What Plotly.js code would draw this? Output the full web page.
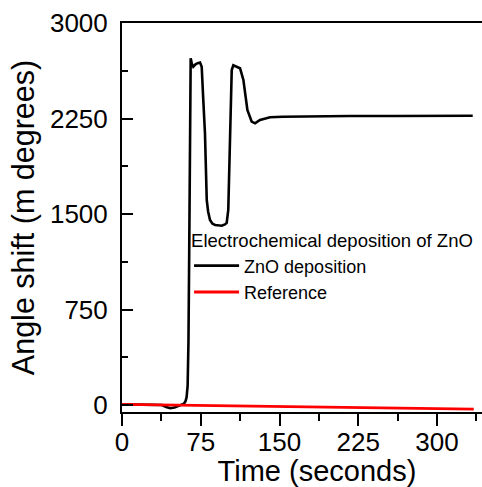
<!DOCTYPE html>
<html>
<head>
<meta charset="utf-8">
<script src="https://cdn.plot.ly/plotly-3.0.1.min.js"></script>
<style>
html, body { margin:0; padding:0; overflow:hidden; background:#fff; }
#chart { width:512px; height:487px; }
</style>
</head>
<body>
<div id="chart"></div>
<script>
// Time (seconds) and angle shift (m degrees)
const znoTime = [0, 10, 20, 30, 38, 42, 46, 50, 54, 57, 59, 60.5, 61.5, 62.5, 63.3, 64, 64.6, 65.1, 65.4, 66.5, 67.9, 70, 72, 74.3, 75.9, 77.4, 79, 80.7, 82, 83.8, 86, 88.6, 92, 95, 98, 99.7, 101.2, 102.9, 104.5, 106, 107.6, 110, 112.4, 115.6, 119.4, 123.5, 126.7, 131.4, 141, 153, 180, 217, 260, 300, 334];
const znoShift = [5, 5, 3, 2, 0, -15, -25, -20, -5, 0, 10, 30, 60, 150, 500, 1200, 2000, 2500, 2723, 2680, 2657, 2675, 2685, 2689, 2657, 2396, 2136, 1610, 1520, 1453, 1425, 1414, 1408, 1408, 1418, 1430, 1532, 2058, 2631, 2668, 2663, 2655, 2645, 2553, 2317, 2225, 2212, 2239, 2260, 2264, 2267, 2270, 2270, 2270, 2272];
const refTime = [0, 50, 100, 150, 200, 250, 300, 335];
const refShift = [5, 0, -6, -12, -18, -24, -30, -33];
const xTicks = [0, 75, 150, 225, 300];
const yTicks = [0, 750, 1500, 2250, 3000];

const FONT = 'Liberation Sans, Arial, sans-serif';

const traces = [
  {x: znoTime, y: znoShift, type: 'scatter', mode: 'lines', name: 'ZnO deposition',
   line: {color: '#000000', width: 2.6}},
  {x: refTime, y: refShift, type: 'scatter', mode: 'lines', name: 'Reference',
   line: {color: '#ff0000', width: 2.8}}
];

const layout = {
  width: 512, height: 487,
  margin: {l: 122, r: 0, t: 23, b: 75},
  paper_bgcolor: '#ffffff', plot_bgcolor: '#ffffff',
  font: {family: FONT, color: '#000000'},
  showlegend: true,
  legend: {
    x: 0.172, y: 0.485, xanchor: 'left', yanchor: 'top',
    bgcolor: 'rgba(0,0,0,0)', borderwidth: 0,
    itemwidth: 45,
    font: {family: FONT, size: 18, color: '#000'},
    title: {text: 'Electrochemical deposition of ZnO', font: {family: FONT, size: 18.5, color: '#000'}},
    tracegroupgap: 0
  },
  xaxis: {
    range: [0, 371.4], tickmode: 'array', tickvals: xTicks, ticktext: xTicks.map(String),
    ticks: 'outside', ticklen: 12, tickwidth: 2, tickcolor: '#000',
    ticklabelstandoff: -6,
    minor: {dtick: 37.5, tick0: 0, ticks: 'outside', ticklen: 7, tickwidth: 2, tickcolor: '#000'},
    showline: true, linecolor: '#000', linewidth: 2, mirror: true,
    showgrid: false, zeroline: false,
    tickfont: {family: FONT, size: 26, color: '#000'},
    title: {text: 'Time (seconds)', font: {family: FONT, size: 29, color: '#000'}, standoff: 2}
  },
  yaxis: {
    range: [-55, 3000], tickmode: 'array', tickvals: yTicks, ticktext: yTicks.map(String),
    ticks: 'inside', ticklen: 11, tickwidth: 2, tickcolor: '#000',
    ticklabelstandoff: 7,
    minor: {dtick: 375, tick0: 0, ticks: 'inside', ticklen: 6, tickwidth: 2, tickcolor: '#000'},
    showline: true, linecolor: '#000', linewidth: 2, mirror: false,
    showgrid: false, zeroline: false,
    tickfont: {family: FONT, size: 26, color: '#000'},
    title: {text: 'Angle shift (m degrees)', font: {family: FONT, size: 30.5, color: '#000'}, standoff: 6}
  }
};

Plotly.newPlot('chart', traces, layout, {displayModeBar: false, staticPlot: true});
</script>
</body>
</html>
